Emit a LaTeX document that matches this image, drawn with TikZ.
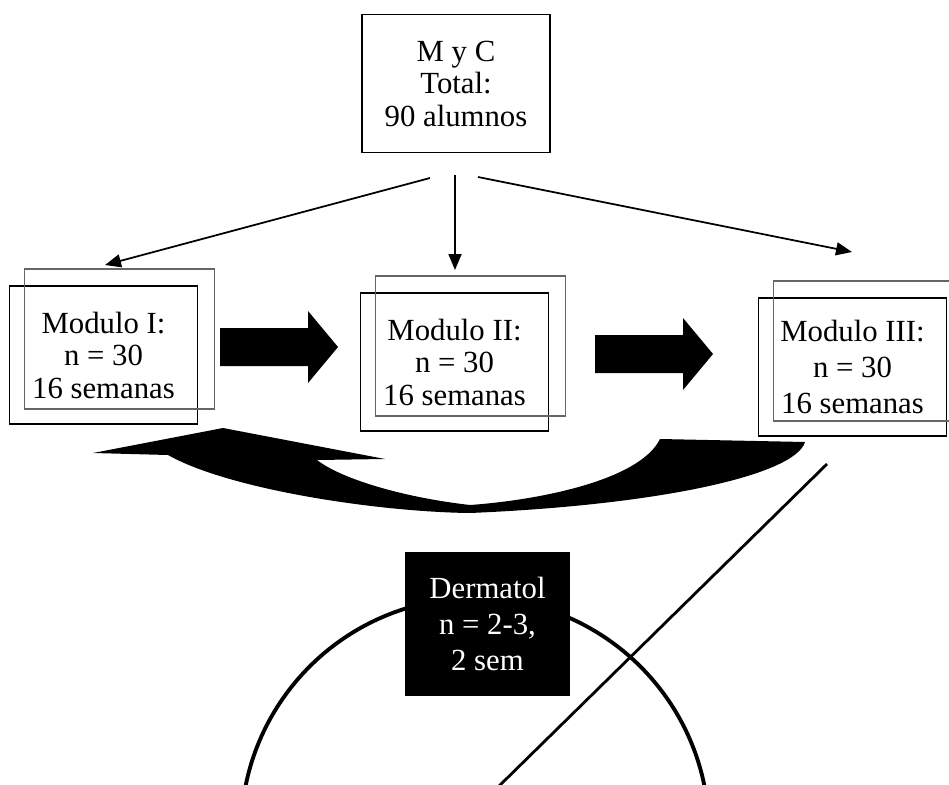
\documentclass[tikz,border=0pt]{standalone}
\usepackage{fontspec}
\setmainfont{Liberation Serif}
\usetikzlibrary{arrows.meta}

\tikzset{
  texto/.style={align=center, font=\fontsize{17.5}{18.5}\selectfont, inner sep=0pt},
  caja/.style={texto, draw, line width=1.1pt, minimum width=3.76cm, minimum height=2.76cm},
  sombra/.style={draw=black!60, line width=0.8pt},
  flecha/.style={line width=1pt, -{Triangle[length=0.32cm,width=0.26cm]}},
}

\begin{document}
\begin{tikzpicture}[x=0.02cm,y=-0.02cm]
    % Marco de la figura
    \useasboundingbox (0,0) rectangle (949,784);
    \clip (0,0) rectangle (949,784);
    % Caja superior
    \node[caja] (total) at (456,83.5) {M y C\\Total:\\90 alumnos};
    % Modulos
    \node[caja] (m1) at (103.5,355) {Modulo I:\\n = 30\\16 semanas};
    \node[caja] (m2) at (454.5,362) {Modulo II:\\n = 30\\16 semanas};
    \node[caja, font=\fontsize{17.5}{20.5}\selectfont] (m3) at (852.5,367) {Modulo III:\\n = 30\\16 semanas};
    % Recuadro gris desplazado de cada modulo
    \foreach \m in {m1,m2,m3} {
        \draw[sombra] ([shift={(16,-16)}]\m.south west) rectangle ([shift={(16,-16)}]\m.north east);
    }
    % Flechas desde la caja superior
    \coordinate (s1) at (430,178); \coordinate (t1) at (105,265);
    \coordinate (s2) at (455,175); \coordinate (t2) at (455,270);
    \coordinate (s3) at (478,177); \coordinate (t3) at (852,252);
    \foreach \i in {1,2,3} {
        \draw[flecha] (s\i) -- (t\i);
    }
    % Flechas gruesas entre modulos
    \foreach \xa/\ym in {220/347, 595/354} {
        \fill (\xa,\ym-19) -- ++(88,0) -- ++(0,-17) -- ++(30,36) -- ++(-30,36) -- ++(0,-17) -- ++(-88,0) -- cycle;
    }
    % Flecha curva de regreso
    \fill (93,453) -- (223,428) -- (385,459) -- (317,460)
        .. controls (340,478) and (400,497) .. (470,505)
        .. controls (540,500) and (640,480) .. (660,439)
        -- (805,442)
        .. controls (795,475) and (660,505) .. (470,513)
        .. controls (380,512) and (230,490) .. (168,455) -- cycle;
    % Circulo y linea diagonal
    \draw[line width=2.2pt] (475,832) circle (4.68cm);
    \coordinate (d1) at (827,464); \coordinate (d2) at (495,790);
    \draw[line width=1.6pt] (d1) -- (d2);
    % Caja negra
    \node[texto, font=\fontsize{17.5}{20.5}\selectfont, fill=black, text=white, minimum width=3.3cm, minimum height=2.88cm] (derm) at (487.5,624) {Dermatol\\n = 2-3,\\2 sem};
\end{tikzpicture}
\end{document}
